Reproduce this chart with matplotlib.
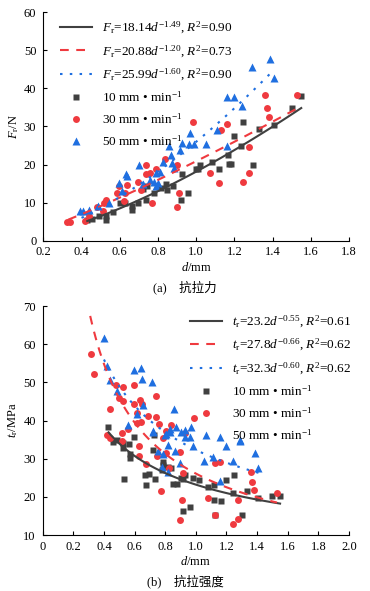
import numpy as np
import matplotlib
matplotlib.use("Agg")
import matplotlib.pyplot as plt

plt.rcParams['font.family'] = ['Liberation Serif', 'Noto Sans CJK SC']
plt.rcParams['mathtext.fontset'] = 'custom'
plt.rcParams['mathtext.rm'] = 'Liberation Serif'
plt.rcParams['mathtext.it'] = 'Liberation Serif:italic'
plt.rcParams['font.size'] = 8.5

# ---- data (a) 抗拉力 ----
a10_d = [0.43, 0.455, 0.49, 0.528, 0.53, 0.566, 0.6, 0.63, 0.666, 0.666,
         0.697, 0.72, 0.74, 0.745, 0.78, 0.815, 0.84, 0.846, 0.88, 0.919,
         0.924, 0.956, 1.0, 1.01, 1.02, 1.081, 1.119, 1.168, 1.17, 1.18,
         1.198, 1.236, 1.246, 1.299, 1.329, 1.407, 1.50, 1.55]
a10_F = [5.5, 5.8, 6.4, 5.4, 6.4, 7.6, 10, 9.8, 9.2, 8.0,
         10, 13.5, 10.7, 14.4, 12.6, 13.9, 14.9, 13.2, 14.5, 10.7,
         17.5, 12.6, 18.8, 18.8, 20, 20.6, 18.9, 22.5, 20.1, 20.1,
         27.5, 25, 31.3, 20, 29.4, 30.4, 34.8, 37.9]
a30_d = [0.322, 0.34, 0.42, 0.437, 0.48, 0.513, 0.517, 0.528, 0.587, 0.596,
         0.62, 0.627, 0.636, 0.694, 0.71, 0.738, 0.74, 0.76, 0.767, 0.79,
         0.837, 0.898, 0.9, 0.91, 0.985, 1.075, 1.121, 1.128, 1.16, 1.247,
         1.278, 1.278, 1.36, 1.369, 1.38, 1.53]
a30_F = [4.8, 5.0, 5.2, 6.6, 8.9, 7.7, 9.9, 10.7, 12.5, 14.3,
         10.4, 12.5, 14.7, 15.5, 13.4, 19.9, 17.5, 17.7, 10, 18.8,
         21.4, 8.8, 19.9, 12.6, 31.3, 17.7, 15.1, 29, 30.6, 15.5,
         17.7, 24.7, 38.4, 34.9, 32.6, 38.2]
a50_d = [0.392, 0.41, 0.44, 0.486, 0.546, 0.595, 0.614, 0.632, 0.64, 0.702,
         0.723, 0.76, 0.78, 0.79, 0.79, 0.8, 0.81, 0.827, 0.858, 0.866,
         0.875, 0.885, 0.915, 0.927, 0.96, 0.968, 0.99, 1.05, 1.107, 1.16,
         1.16, 1.198, 1.238, 1.29, 1.388, 1.407]
a50_F = [7.8, 7.8, 8.1, 9.0, 9.8, 15.2, 13.0, 17.4, 17.0, 19.9,
         15.0, 16, 15.5, 17.7, 14.3, 15.2, 18.1, 20.8, 25, 22.5,
         20.5, 19.1, 23.8, 25.6, 25.5, 28.3, 25.5, 25.5, 29.1, 37.7,
         25, 37.7, 35.3, 45.5, 47.8, 42.8]

# ---- data (b) 抗拉强度 ----
b10_d = [0.428, 0.456, 0.487, 0.522, 0.526, 0.53, 0.566, 0.57, 0.57, 0.598,
         0.668, 0.672, 0.696, 0.718, 0.726, 0.733, 0.78, 0.783, 0.787, 0.82,
         0.841, 0.848, 0.878, 0.9, 0.918, 0.918, 0.928, 0.962, 0.98, 1.02,
         1.082, 1.12, 1.12, 1.125, 1.162, 1.2, 1.24, 1.249, 1.3, 1.332,
         1.408, 1.495, 1.55]
b10_t = [38.2, 34.4, 34.8, 32.7, 34.1, 24.6, 33.8, 31.2, 30.1, 35.6,
         25.7, 23.1, 26.1, 32.4, 36.1, 24.6, 27.0, 28.3, 29.2, 27.7,
         27.5, 23.4, 23.4, 24.9, 24.6, 16.4, 25.7, 17.4, 24.9, 24.4,
         22.5, 23.1, 19.1, 15.2, 19.0, 24.4, 21.0, 25.7, 15.2, 21.4,
         19.7, 20.1, 20.3]
b30_d = [0.315, 0.337, 0.42, 0.44, 0.44, 0.477, 0.497, 0.516, 0.516, 0.523,
         0.526, 0.56, 0.598, 0.598, 0.614, 0.614, 0.631, 0.631, 0.636, 0.64,
         0.647, 0.672, 0.69, 0.738, 0.738, 0.748, 0.76, 0.772, 0.787, 0.803,
         0.805, 0.827, 0.836, 0.896, 0.897, 0.907, 0.918, 0.93, 0.99, 1.081,
         1.125, 1.125, 1.157, 1.245, 1.277, 1.277, 1.358, 1.368, 1.38, 1.527]
b30_t = [57.3, 52.3, 36.3, 42.9, 35.5, 49.3, 46.0, 36.7, 34.6, 45.0,
         48.8, 37.8, 49.3, 44.3, 42.0, 39.4, 33.3, 30.8, 45.3, 39.6,
         44.4, 28.7, 41.3, 46.4, 40.8, 30.8, 39.2, 21.6, 35.4, 37.3,
         31.4, 27.6, 38.8, 13.9, 31.8, 19.3, 26.3, 36.8, 40.7, 19.6,
         28.8, 15.2, 29.1, 13.0, 14.1, 19.2, 26.4, 23.8, 21.9, 21.0]
b50_d = [0.4, 0.418, 0.44, 0.483, 0.56, 0.598, 0.618, 0.64, 0.65, 0.658,
         0.712, 0.723, 0.723, 0.75, 0.777, 0.787, 0.8, 0.803, 0.82, 0.82,
         0.832, 0.832, 0.859, 0.864, 0.869, 0.896, 0.9, 0.93, 0.93, 0.96,
         0.966, 0.98, 1.053, 1.11, 1.157, 1.157, 1.196, 1.24, 1.288, 1.288,
         1.386, 1.408]
b50_t = [61.7, 54.2, 50.7, 47.8, 38.7, 53.2, 41.7, 53.8, 50.8, 44.0,
         50.2, 37.2, 37.0, 32.1, 27.9, 31.3, 36.2, 36.4, 33.5, 26.6,
         37.9, 37.0, 43.0, 32.1, 38.3, 28.8, 37.0, 37.6, 35.7, 35.6,
         38.3, 33.4, 29.3, 30.4, 35.7, 24.1, 33.4, 29.3, 34.7, 35.0,
         31.6, 27.5]

# fitted power curves y = a * d^b  (coef, exponent, d range as drawn)
fit_a_coef = [18.14, 20.88, 25.99]
fit_a_exp = [1.49, 1.20, 1.60]
fit_a_rng = [(0.43, 1.55), (0.33, 1.53), (0.40, 1.40)]
fit_b_coef = [23.2, 26.1, 32.3]
fit_b_exp = [-0.55, -0.81, -0.60]
fit_b_rng = [(0.43, 1.55), (0.31, 1.53), (0.40, 1.41)]

labels_a = [r'$F_{\rm r}$=18.14$d^{-1.49}$, $R^2$=0.90',
            r'$F_{\rm r}$=20.88$d^{-1.20}$, $R^2$=0.73',
            r'$F_{\rm r}$=25.99$d^{-1.60}$, $R^2$=0.90']
labels_b = [r'$t_{\rm r}$=23.2$d^{-0.55}$, $R^2$=0.61',
            r'$t_{\rm r}$=27.8$d^{-0.66}$, $R^2$=0.62',
            r'$t_{\rm r}$=32.3$d^{-0.60}$, $R^2$=0.62']
speed_labels = ['10 mm • min$^{-1}$', '30 mm • min$^{-1}$', '50 mm • min$^{-1}$']

colors = ['#404040', '#ef3a3f', '#1f6fe0']
markers = ['s', 'o', '^']
styles = ['-', (0, (4.2, 3.6)), (0, (1.2, 3.5))]

fig = plt.figure(figsize=(3.70, 5.91), dpi=100)
ax1 = fig.add_axes([43.3 / 370, 1 - 240.7 / 591, 305.7 / 370, 228.4 / 591])
ax2 = fig.add_axes([42.7 / 370, 1 - 535 / 591, 306.3 / 370, 229 / 591])


def draw(ax, pts, coefs, exps, rngs, fit_labels):
    for i in range(3):
        x = np.linspace(rngs[i][0], rngs[i][1], 100)
        ax.plot(x, coefs[i] * x ** exps[i], color=colors[i], ls=styles[i],
                lw=1.5, label=fit_labels[i], zorder=3)
    for i, (xd, yd) in enumerate(pts):
        ax.plot(xd, yd, ls='none', marker=markers[i], color=colors[i],
                ms=5 if i < 2 else 5.5, mec='none', label=speed_labels[i], zorder=2)
    for s in ['top', 'right']:
        ax.spines[s].set_visible(False)
    ax.tick_params(direction='in', length=3, width=0.8, labelsize=9)
    ax.tick_params(axis='y', pad=5)
    ax.tick_params(axis='x', pad=4)
    ax.set_xlabel(r'$d$/mm', fontsize=9, labelpad=2)


legend_kw = dict(loc='upper left', frameon=False, handlelength=2.4,
                 handletextpad=0.75, labelspacing=0.55, fontsize=9.5,
                 borderaxespad=0.2)

draw(ax1, [(a10_d, a10_F), (a30_d, a30_F), (a50_d, a50_F)],
     fit_a_coef, fit_a_exp, fit_a_rng, labels_a)
ax1.set_xlim(0.2, 1.8)
ax1.set_ylim(0, 60)
ax1.set_xticks(np.arange(0.2, 1.81, 0.2))
ax1.set_xticklabels([f'{v:.1f}' for v in np.arange(0.2, 1.81, 0.2)])
ax1.set_yticks(range(0, 61, 10))
ax1.set_ylabel(r'$F_{\rm r}$/N', fontsize=9, labelpad=2)
ax1.legend(bbox_to_anchor=(0.03, 1.0), **legend_kw)

draw(ax2, [(b10_d, b10_t), (b30_d, b30_t), (b50_d, b50_t)],
     fit_b_coef, fit_b_exp, fit_b_rng, labels_b)
ax2.set_xlim(0, 2.0)
ax2.set_ylim(10, 70)
ax2.set_xticks(np.arange(0, 2.01, 0.2))
ax2.set_xticklabels(['0'] + [f'{v:.1f}' for v in np.arange(0.2, 2.01, 0.2)])
ax2.set_yticks(range(10, 71, 10))
ax2.set_ylabel(r'$t_{\rm r}$/MPa', fontsize=9, labelpad=2)
ax2.legend(bbox_to_anchor=(0.455, 1.0), **legend_kw)

fig.text(0.5, 1 - 287 / 591, '(a)\u3000抗拉力', ha='center', va='center', fontsize=9)
fig.text(0.5, 1 - 581 / 591, '(b)\u3000抗拉强度', ha='center', va='center', fontsize=9)

fig.savefig('out.png', dpi=100)
